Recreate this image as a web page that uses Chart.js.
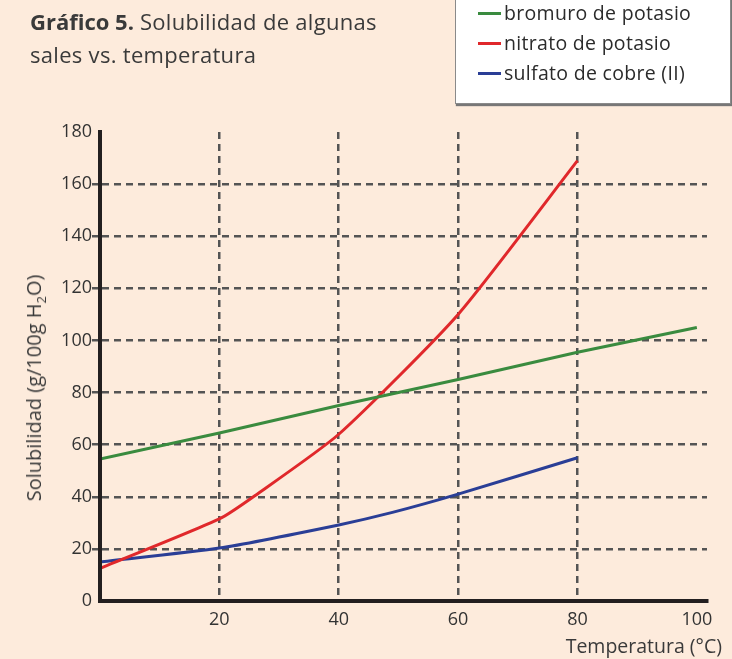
<!DOCTYPE html>
<html><head><meta charset="utf-8">
<script src="https://cdn.jsdelivr.net/npm/chart.js@4/dist/chart.umd.min.js"></script>
<style>
html,body{margin:0;padding:0;background:#FDEBDC;width:732px;height:659px;overflow:hidden;font-family:"Open Sans",sans-serif;}
#wrap{position:absolute;left:0;top:0;width:732px;height:659px;}
#title{position:absolute;left:30px;top:5px;font-size:22px;line-height:33px;color:#3a3a3a;letter-spacing:0.3px;}
#title b{font-weight:700;letter-spacing:0;}
#legend{position:absolute;left:455px;top:-2px;width:274px;height:104px;background:#fff;border:1px solid #8a8a8a;box-shadow:1px 2px 1px #777;}
.li{position:absolute;left:22px;font-size:19.5px;color:#2b2b2b;height:24px;line-height:24px;letter-spacing:0.3px;}
.li span{display:inline-block;width:23px;height:3px;vertical-align:middle;margin-right:3px;position:relative;top:-1px;}
#ytitle{position:absolute;left:35px;top:388px;transform:translate(-50%,-50%) rotate(-90deg);font-size:20px;color:#3a3a3a;white-space:nowrap;}
#xtitle{position:absolute;right:10px;top:632px;font-size:19.5px;color:#3a3a3a;white-space:nowrap;}
</style></head>
<body>
<div id="wrap"><canvas id="c" width="732" height="659"></canvas></div>
<div id="title"><b>Gráfico 5.</b> Solubilidad de algunas<br>sales vs. temperatura</div>
<div id="legend">
<div class="li" style="top:2px"><span style="background:#3A8B3F"></span>bromuro de potasio</div>
<div class="li" style="top:32px"><span style="background:#E0282B"></span>nitrato de potasio</div>
<div class="li" style="top:62px"><span style="background:#2A3E96"></span>sulfato de cobre (II)</div>
</div>
<div id="ytitle">Solubilidad (g/100g H<sub style="font-size:13px">2</sub>O)</div>
<div id="xtitle">Temperatura (°C)</div>
<script>
const seriesNames = ["bromuro de potasio","nitrato de potasio","sulfato de cobre (II)"];
const kbrTemp = [0,20,40,60,80,100];
const kbrSol  = [54.5,64.5,75,85,95.5,105];
const kno3Temp = [0,20,26,40,60,80];
const kno3Sol  = [12.5,31.5,40.5,64,110,169];
const cuso4Temp = [0,20,40,49,60,80];
const cuso4Sol  = [15,20.3,29.2,34,41,55];
const xTicks = [20,40,60,80,100];
const yTicks = [0,20,40,60,80,100,120,140,160,180];

const pts = (xs,ys)=>xs.map((x,i)=>({x:x,y:ys[i]}));
const gridCol = '#545454';
const hide = (vals)=>(ctx)=>(ctx.tick && vals.includes(ctx.tick.value)) ? 'rgba(0,0,0,0)' : gridCol;
new Chart(document.getElementById('c'),{
  type:'line',
  data:{datasets:[
    {label:seriesNames[0],data:pts(kbrTemp,kbrSol),borderColor:'#3A8B3F',borderWidth:3,pointRadius:0,tension:0},
    {label:seriesNames[1],data:pts(kno3Temp,kno3Sol),borderColor:'#E0282B',borderWidth:3,pointRadius:0,tension:0.2},
    {label:seriesNames[2],data:pts(cuso4Temp,cuso4Sol),borderColor:'#2A3E96',borderWidth:3,pointRadius:0,tension:0.2}
  ]},
  options:{
    responsive:false,animation:false,
    layout:{padding:{top:132,right:25,left:0,bottom:0}},
    plugins:{legend:{display:false},tooltip:{enabled:false}},
    scales:{
      x:{type:'linear',min:0,max:101.7,
        afterBuildTicks:(s)=>{s.ticks=xTicks.map(v=>({value:v}));},
        afterFit:(s)=>{s.height=58;},
        grid:{color:hide([100]),lineWidth:2.5,drawTicks:false},
        border:{color:'#231f20',width:4,dash:[7,5]},
        ticks:{color:'#333',font:{family:'Open Sans',size:18},padding:8,maxRotation:0}
      },
      y:{min:0,max:180,
        afterBuildTicks:(s)=>{s.ticks=yTicks.map(v=>({value:v}));},
        afterFit:(s)=>{s.width=100;},
        grid:{color:hide([0,180]),lineWidth:2.5,tickLength:8,tickColor:hide([0,180])},
        border:{color:'#231f20',width:4,dash:[7,5]},
        ticks:{color:'#333',font:{family:'Open Sans',size:18},padding:0}
      }
    }
  },
  plugins:[{
    id:'axesSolid',
    afterDraw(chart){
      const ctx=chart.ctx, a=chart.chartArea;
      ctx.save();
      ctx.setLineDash([]);
      ctx.strokeStyle='#231f20';ctx.lineWidth=4;
      ctx.beginPath();
      ctx.moveTo(a.left,a.top);ctx.lineTo(a.left,a.bottom);ctx.lineTo(a.right,a.bottom);
      ctx.stroke();
      ctx.restore();
    }
  }]
});
</script>
</body></html>
